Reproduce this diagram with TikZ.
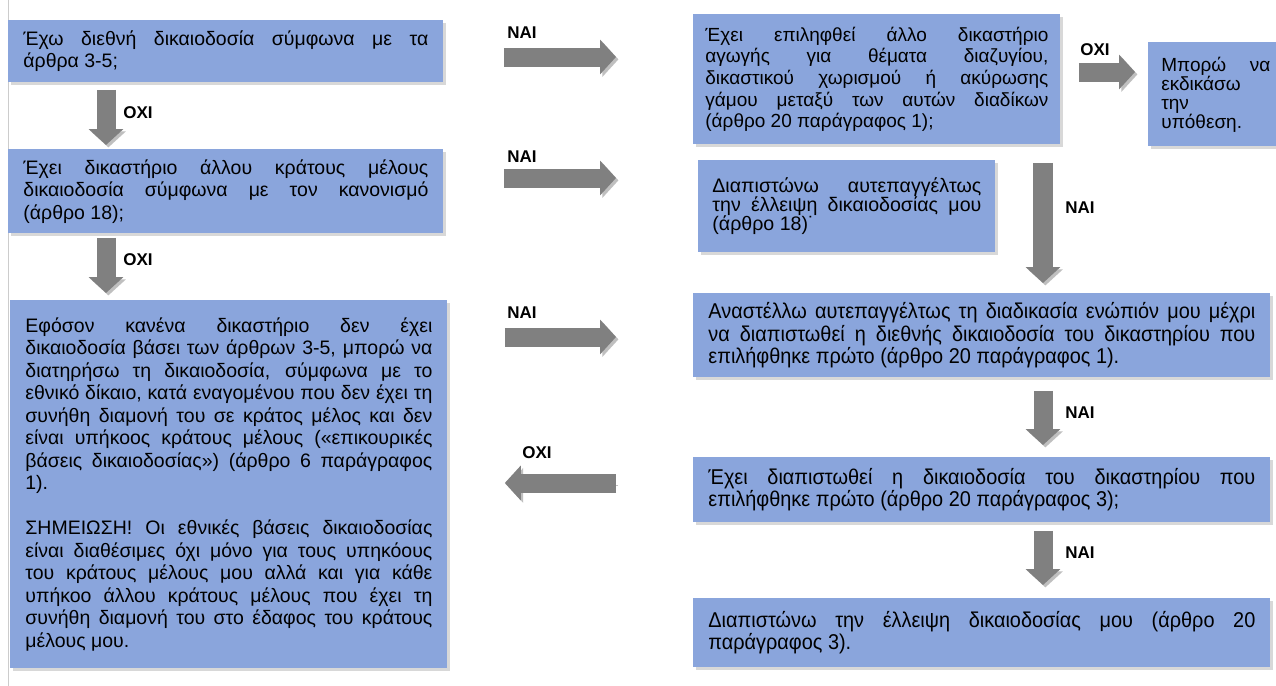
\documentclass[tikz,border=0pt]{standalone}
\usepackage{fontspec}
\setmainfont{Liberation Sans}
\newfontfamily\narrowsans[FakeStretch=0.93]{Liberation Sans}
\usetikzlibrary{arrows.meta,shadows}
\definecolor{boxblue}{RGB}{138,165,220}
\definecolor{arrowgray}{RGB}{128,128,128}

\begin{document}
\begin{tikzpicture}[x=0.5pt,y=-0.5pt,
  box/.style={fill=boxblue,anchor=north west,inner xsep=7.5pt,inner ysep=2pt,
    align=justify,font=\fontsize{9.75pt}{11.25pt}\selectfont,
    drop shadow={shadow xshift=1.5pt,shadow yshift=-1.5pt,opacity=.3}},
  narrowbox/.style={box,font=\narrowsans\fontsize{10.7pt}{11.2pt}\selectfont},
  lab/.style={font=\bfseries\fontsize{8.5pt}{10pt}\selectfont,inner sep=0pt},
  barrow/.style={draw=arrowgray,line width=9.5pt,-{Triangle[width=17pt,length=8pt]},
    preaction={draw=black!25,transform canvas={shift={(1.2pt,-1.2pt)}}}}]
  \fill[white] (0,0) rectangle (1276,686);
  \useasboundingbox (0,0) rectangle (1276,686);
  \draw[black!20] (8,0) -- (8,686);

  % left column
  \node[box,text width=202.5pt,minimum height=31pt] (l1) at (8,20)
    {Έχω διεθνή δικαιοδοσία σύμφωνα με τα\linebreak άρθρα 3-5;};
  \node[box,text width=202.5pt,minimum height=42pt] (l2) at (8,149)
    {Έχει δικαστήριο άλλου κράτους μέλους\linebreak
     δικαιοδοσία σύμφωνα με τον κανονισμό\linebreak (άρθρο 18);};
  \node[box,text width=203.5pt,minimum height=184pt] (l3) at (10,300)
    {Εφόσον κανένα δικαστήριο δεν έχει\linebreak
     δικαιοδοσία βάσει των άρθρων 3-5, μπορώ να\linebreak
     διατηρήσω τη δικαιοδοσία, σύμφωνα με το\linebreak
     εθνικό δίκαιο, κατά εναγομένου που δεν έχει τη\linebreak
     συνήθη διαμονή του σε κράτος μέλος και δεν\linebreak
     είναι υπήκοος κράτους μέλους («επικουρικές\linebreak
     βάσεις δικαιοδοσίας») (άρθρο 6 παράγραφος\linebreak
     1).\\[11.25pt]
     ΣΗΜΕΙΩΣΗ! Οι εθνικές βάσεις δικαιοδοσίας\linebreak
     είναι διαθέσιμες όχι μόνο για τους υπηκόους\linebreak
     του κράτους μέλους μου αλλά και για κάθε\linebreak
     υπήκοο άλλου κράτους μέλους που έχει τη\linebreak
     συνήθη διαμονή του στο έδαφος του κράτους\linebreak
     μέλους μου.};

  % right column
  \node[box,inner xsep=6pt,text width=171.5pt,minimum height=65pt,
    font=\fontsize{9.5pt}{10.85pt}\selectfont] (r1) at (693,14)
    {Έχει επιληφθεί άλλο δικαστήριο\linebreak
     αγωγής για θέματα διαζυγίου,\linebreak
     δικαστικού χωρισμού ή ακύρωσης\linebreak
     γάμου μεταξύ των αυτών διαδίκων\linebreak
     (άρθρο 20 παράγραφος 1);};
  \node[box,inner xsep=6.5pt,text width=54.5pt,minimum height=52pt,
    font=\fontsize{9.5pt}{9.5pt}\selectfont] (m) at (1148,42)
    {Μπορώ να\linebreak εκδικάσω\linebreak την\linebreak υπόθεση.};
  \node[box,inner xsep=7pt,text width=134.5pt,minimum height=46pt,
    font=\fontsize{9.8pt}{9.6pt}\selectfont] (r2) at (698,160)
    {Διαπιστώνω αυτεπαγγέλτως\linebreak
     την έλλειψη δικαιοδοσίας μου\linebreak (άρθρο 18)˙};
  \node[narrowbox,text width=273.5pt,minimum height=42pt] (r3) at (693,293)
    {Αναστέλλω αυτεπαγγέλτως τη διαδικασία ενώπιόν μου μέχρι\linebreak
     να διαπιστωθεί η διεθνής δικαιοδοσία του δικαστηρίου που\linebreak
     επιλήφθηκε πρώτο (άρθρο 20 παράγραφος 1).};
  \node[narrowbox,text width=273.5pt,minimum height=32.5pt] (r4) at (693,457)
    {Έχει διαπιστωθεί η δικαιοδοσία του δικαστηρίου που\linebreak
     επιλήφθηκε πρώτο (άρθρο 20 παράγραφος 3);};
  \node[narrowbox,text width=273.5pt,minimum height=34.5pt] (r5) at (693,598)
    {Διαπιστώνω την έλλειψη δικαιοδοσίας μου (άρθρο 20\linebreak
     παράγραφος 3).};

  % arrow lanes
  \coordinate (vl) at (106,0);
  \coordinate (vr) at (1043,0);
  \coordinate (h1) at (0,57);
  \coordinate (h2) at (0,178);
  \coordinate (h3) at (0,337);
  \coordinate (h4) at (0,483);
  \coordinate (h5) at (0,72);

  \draw[barrow,shorten <=3.5pt,shorten >=2pt] (l1.south -| vl) -- (l2.north -| vl);
  \draw[barrow,shorten <=2pt,shorten >=3.5pt] (l2.south -| vl) -- (l3.north -| vl);
  \draw[barrow,shorten <=30pt,shorten >=38.5pt] (l1.east |- h1) -- (r1.west |- h1);
  \draw[barrow,shorten <=30pt,shorten >=41pt] (l2.east |- h2) -- (r2.west |- h2);
  \draw[barrow,shorten <=28.5pt,shorten >=38.5pt] (l3.east |- h3) -- (r3.west |- h3);
  \draw[barrow,shorten <=38.5pt,shorten >=28.5pt] (r4.west |- h4) -- (l3.east |- h4);
  \draw[barrow,shorten <=9pt,shorten >=6.5pt] (r1.east |- h5) -- (m.west |- h5);
  \draw[barrow,line width=10pt,shorten <=9pt,shorten >=5pt] (r1.south -| vr) -- (r3.north -| vr);
  \draw[barrow,shorten <=6.5pt,shorten >=6pt] (r3.south -| vr) -- (r4.north -| vr);
  \draw[barrow,shorten <=4pt,shorten >=6.5pt] (r4.south -| vr) -- (r5.north -| vr);

  % labels
  \node[lab] (o1) at (138,113) {ΟΧΙ};
  \node[lab] (o2) at (138,260) {ΟΧΙ};
  \node[lab] (n1) at (522,33) {ΝΑΙ};
  \node[lab] (n2) at (522,157) {ΝΑΙ};
  \node[lab] (n3) at (522,313) {ΝΑΙ};
  \node[lab] (o3) at (537,453) {ΟΧΙ};
  \node[lab] (o4) at (1095,50) {ΟΧΙ};
  \node[lab] (n4) at (1080,208) {ΝΑΙ};
  \node[lab] (n5) at (1080,413) {ΝΑΙ};
  \node[lab] (n6) at (1080,553) {ΝΑΙ};
\end{tikzpicture}
\end{document}
